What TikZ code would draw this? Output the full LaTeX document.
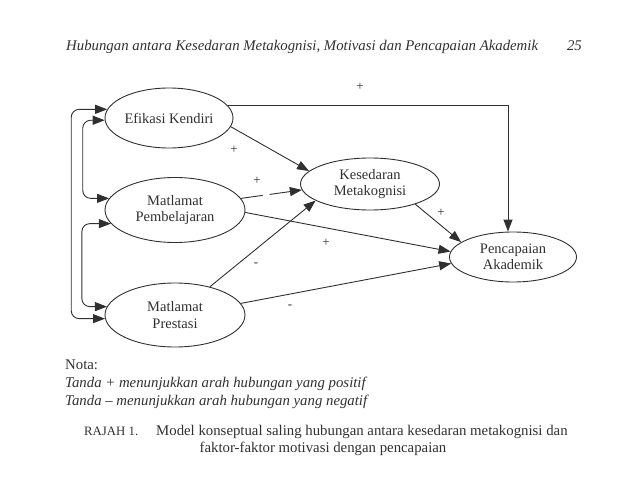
\documentclass[tikz,border=0pt]{standalone}
\usepackage{fontspec}
\setmainfont{Liberation Serif}
\usetikzlibrary{shapes.geometric,arrows.meta}
\definecolor{ink}{HTML}{303030}

\begin{document}
\begin{tikzpicture}[x=1pt, y=-1pt,
    >={Triangle[length=12pt,width=9pt]},
    var/.style={draw=ink, ellipse, inner sep=0pt, align=center, text=ink,
      line width=0.9pt, font=\fontsize{14.5}{16.5}\selectfont},
    path/.style={->, draw=ink, line width=0.9pt},
    bidir/.style={<->, draw=ink, line width=0.9pt, rounded corners=8pt},
    sign/.style={text=ink, font=\fontsize{13}{13}\selectfont},
    txt/.style={text=ink, anchor=base west, inner sep=0pt}]
  \useasboundingbox (0,0) rectangle (638,479);
  % Running head of the page
  \node[txt, font=\fontsize{14.8}{15}\itshape] (head) at (66,50)
    {Hubungan antara Kesedaran Metakognisi, Motivasi dan Pencapaian Akademik};
  \node[txt, anchor=base east, font=\fontsize{14.8}{15}\itshape] (page) at (582,50) {25};
  % The five variables of the model
  \node[var, minimum width=128pt, minimum height=60pt] (efikasi) at (169,118) {Efikasi Kendiri};
  \node[var, minimum width=140pt, minimum height=65pt] (pembel) at (175,210) {Matlamat\\Pembelajaran};
  \node[var, minimum width=140pt, minimum height=64pt] (prestasi) at (175,315) {Matlamat\\Prestasi};
  \node[var, minimum width=139pt, minimum height=52pt] (kesedaran) at (370,184) {Kesedaran\\Metakognisi};
  \node[var, minimum width=127pt, minimum height=50pt] (pencapaian) at (513,257) {Pencapaian\\Akademik};
  % Correlations between the three motivation factors
  \draw[bidir] (efikasi.172) -- ++(-36,0) |- (prestasi.183);
  \draw[bidir] (efikasi.182) -- ++(-22,0) |- (pembel.170);
  \draw[bidir] (pembel.192) -- ++(-29,0) |- (prestasi.173);
  % Direct paths
  \draw[path] (efikasi.12) -| ([xshift=-5pt]pencapaian.north);
  \draw[path] (efikasi.-8) -- (kesedaran.168);
  \draw[path, dash pattern=on 22pt off 7pt on 30pt off 0pt] (pembel.10) -- (kesedaran.185);
  \draw[path] (prestasi.39) -- (kesedaran.197);
  \draw[path] (pembel.-2) -- (pencapaian.175);
  \draw[path] (prestasi.10) -- (pencapaian.186);
  \draw[path] (kesedaran.-24) -- (pencapaian.164);
  % Signs of the paths
  \node[sign] (s1) at (360,87) {+};
  \node[sign] (s2) at (234,150) {+};
  \node[sign] (s3) at (257,181) {+};
  \node[sign] (s4) at (326,243) {+};
  \node[sign] (s5) at (256,265) {-};
  \node[sign] (s6) at (290,307) {-};
  \node[sign] (s7) at (441,213) {+};
  % Note and caption
  \node[txt, font=\fontsize{14.8}{15}\selectfont] (nota) at (65,369) {Nota:};
  \node[txt, font=\fontsize{14.8}{15}\itshape] (pos) at (65,387)
    {Tanda + menunjukkan arah hubungan yang positif};
  \node[txt, font=\fontsize{14.8}{15}\itshape] (neg) at (65,405)
    {Tanda -- menunjukkan arah hubungan yang negatif};
  \node[txt, font=\fontsize{12.8}{14}\selectfont] (rajah) at (84,435) {RAJAH 1.};
  \node[txt, font=\fontsize{14.8}{15}\selectfont] (cap1) at (156,435)
    {Model konseptual saling hubungan antara kesedaran metakognisi dan};
  \node[txt, anchor=base, font=\fontsize{14.8}{15}\selectfont] (cap2) at (323,452)
    {faktor-faktor motivasi dengan pencapaian};
\end{tikzpicture}
\end{document}
